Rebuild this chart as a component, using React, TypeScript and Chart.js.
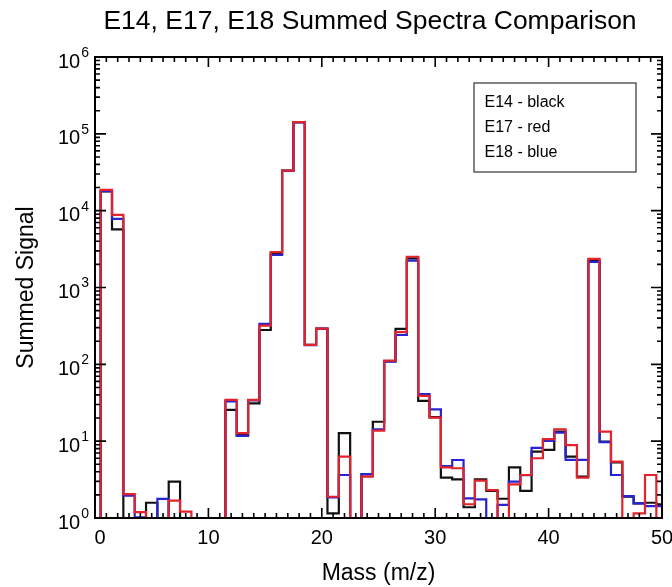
import React, { useEffect, useRef } from 'react';
import { Chart, registerables } from 'chart.js';

Chart.register(...registerables);

// Mass bins (m/z), one value per integer mass; 0 means below the plotted range
const masses: number[] = Array.from({ length: 51 }, (_, i) => i);

const e14Black: number[] = [
  0, 17800, 5700, 0, 0, 1.58, 0, 2.97, 0, 0,
  0, 0, 25.5, 12, 31, 280, 2800, 33300, 142000, 179,
  292, 1.15, 12.7, 0, 3.7, 17.9, 110, 289, 2400, 33.4,
  20.5, 3.35, 3.19, 1.38, 3.19, 2.25, 1.78, 4.57, 2.25, 7.3,
  7.7, 13.3, 6.3, 3.45, 2200, 9.9, 5.3, 1.9, 1.55, 1.58,
  1.5,
];

const e17Red: number[] = [
  0, 18600, 8800, 2.05, 1.19, 0, 0, 1.68, 1.21, 0,
  0, 0, 34.4, 12.7, 34.4, 319, 2880, 33300, 142000, 179,
  292, 1.89, 6.3, 0, 3.45, 13.7, 112, 262, 2515, 38.8,
  20.2, 4.57, 4.44, 1.51, 3.06, 2.31, 0, 2.74, 3.63, 5.99,
  10.6, 14.3, 8.9, 3.35, 2356, 13.3, 5.41, 0, 1.15, 3.63,
  0,
];

const e18Blue: number[] = [
  0, 18000, 7800, 1.95, 1.02, 0, 1.77, 0, 0, 0,
  0, 0, 33, 11.7, 34, 336, 2650, 33000, 141000, 178,
  290, 1.85, 3.63, 0, 3.74, 14.3, 108, 241, 2240, 40.9,
  26, 4.75, 5.69, 1.8, 1.75, 0, 1.48, 2.97, 3.6, 8.2,
  10.1, 12.9, 5.7, 5.7, 2155, 9.7, 3.63, 1.93, 1.55, 1.43,
  1.43,
];

const xTicks: number[] = [0, 10, 20, 30, 40, 50];
const yDecades: number[] = [0, 1, 2, 3, 4, 5, 6];
const legendLabels: string[] = ['E14 - black', 'E17 - red', 'E18 - blue'];

const titleText = 'E14, E17, E18 Summed Spectra Comparison';
const xTitle = 'Mass (m/z)';
const yTitle = 'Summed Signal';

const FONT = '"Liberation Sans", Arial, Helvetica, sans-serif';
const RED = '#e3222b';
const BLUE = '#2424d4';
const BLACK = '#111111';

function stepPoints(values: number[]) {
  const pts: { x: number; y: number }[] = [];
  masses.forEach((m, i) => {
    const v = values[i] > 0 ? values[i] : 0.1;
    pts.push({ x: m - 0.5, y: v });
    pts.push({ x: m + 0.5, y: v });
  });
  return pts;
}

const decorPlugin = {
  id: 'decor',
  afterDraw(chart: any) {
    const ctx = chart.ctx as CanvasRenderingContext2D;
    const { left, right, top, bottom } = chart.chartArea;
    const xs = chart.scales.x;
    const ys = chart.scales.y;
    ctx.save();
    ctx.strokeStyle = '#000';
    ctx.fillStyle = '#000';

    // axis box
    ctx.lineWidth = 2;
    ctx.strokeRect(left, top, right - left, bottom - top);

    // x ticks (bottom & top, inward)
    ctx.lineWidth = 1.6;
    for (let v = 0; v <= 50; v++) {
      const px = xs.getPixelForValue(v);
      const major = v % 10 === 0;
      const len = major ? 10 : 5;
      ctx.beginPath();
      ctx.moveTo(px, bottom);
      ctx.lineTo(px, bottom - len);
      ctx.moveTo(px, top);
      ctx.lineTo(px, top + len);
      ctx.stroke();
    }
    // y ticks (left & right, inward)
    for (let d = 0; d < 6; d++) {
      for (let k = 1; k <= 9; k++) {
        const val = k * Math.pow(10, d);
        const py = ys.getPixelForValue(val);
        const len = k === 1 ? 11 : 5;
        ctx.beginPath();
        ctx.moveTo(left, py);
        ctx.lineTo(left + len, py);
        ctx.moveTo(right, py);
        ctx.lineTo(right - len, py);
        ctx.stroke();
      }
    }
    {
      const py = ys.getPixelForValue(1e6);
      ctx.beginPath();
      ctx.moveTo(left, py);
      ctx.lineTo(left + 11, py);
      ctx.moveTo(right, py);
      ctx.lineTo(right - 11, py);
      ctx.stroke();
    }

    // x tick labels
    ctx.font = `20px ${FONT}`;
    ctx.textAlign = 'center';
    ctx.textBaseline = 'middle';
    xTicks.forEach((v) => {
      const px = xs.getPixelForValue(v) + (v === 0 ? 5 : 0);
      ctx.fillText(String(v), px, bottom + 20);
    });

    // y tick labels: 10^n
    yDecades.forEach((n) => {
      const py = ys.getPixelForValue(Math.pow(10, n));
      ctx.font = `14px ${FONT}`;
      const ew = ctx.measureText(String(n)).width;
      ctx.textAlign = 'right';
      ctx.textBaseline = 'middle';
      const xr = left - 6;
      ctx.fillText(String(n), xr, py - 4);
      ctx.font = `20px ${FONT}`;
      ctx.fillText('10', xr - ew - 1, py + 5);
    });

    // titles
    ctx.textAlign = 'center';
    ctx.textBaseline = 'middle';
    ctx.font = `26.5px ${FONT}`;
    ctx.fillText(titleText, 370, 22);
    ctx.font = `23px ${FONT}`;
    ctx.fillText(xTitle, (left + right) / 2, 574);
    ctx.save();
    ctx.translate(27, (top + bottom) / 2);
    ctx.rotate(-Math.PI / 2);
    ctx.fillText(yTitle, 0, 0);
    ctx.restore();

    // legend (text only, boxed)
    ctx.fillStyle = '#fff';
    ctx.fillRect(474, 83, 162, 89);
    ctx.strokeStyle = '#333';
    ctx.lineWidth = 1.2;
    ctx.strokeRect(474, 83, 162, 89);
    ctx.fillStyle = '#000';
    ctx.font = `16px ${FONT}`;
    ctx.textAlign = 'left';
    ctx.textBaseline = 'middle';
    legendLabels.forEach((t, i) => {
      ctx.fillText(t, 484.5, 103 + i * 25);
    });
    ctx.restore();
  },
};

export default function App() {
  const ref = useRef<HTMLCanvasElement>(null);
  useEffect(() => {
    document.body.style.margin = '0';
    const canvas = ref.current!;
    const chart = new Chart(canvas, {
      type: 'line',
      data: {
        datasets: [
          {
            label: 'E17',
            data: stepPoints(e17Red),
            borderColor: RED,
            borderWidth: 2.2,
            pointRadius: 0,
            tension: 0,
            fill: false,
            order: 0,
          },
          {
            label: 'E18',
            data: stepPoints(e18Blue),
            borderColor: BLUE,
            borderWidth: 2.2,
            pointRadius: 0,
            tension: 0,
            fill: false,
            order: 1,
          },
          {
            label: 'E14',
            data: stepPoints(e14Black),
            borderColor: BLACK,
            borderWidth: 2.2,
            pointRadius: 0,
            tension: 0,
            fill: false,
            order: 2,
          },
        ],
      },
      options: {
        animation: false,
        responsive: false,
        devicePixelRatio: 1,
        layout: { padding: { left: 95, top: 57, right: 10, bottom: 69 } },
        plugins: {
          legend: { display: false },
          title: { display: false },
          tooltip: { enabled: false },
        },
        scales: {
          x: { type: 'linear', min: 0, max: 50, display: false },
          y: { type: 'logarithmic', min: 1, max: 1e6, display: false },
        },
      },
      plugins: [decorPlugin],
    });
    return () => chart.destroy();
  }, []);
  return (
    <div style={{ width: 672, height: 587, background: '#fff' }}>
      <canvas ref={ref} width={672} height={587} />
    </div>
  );
}
